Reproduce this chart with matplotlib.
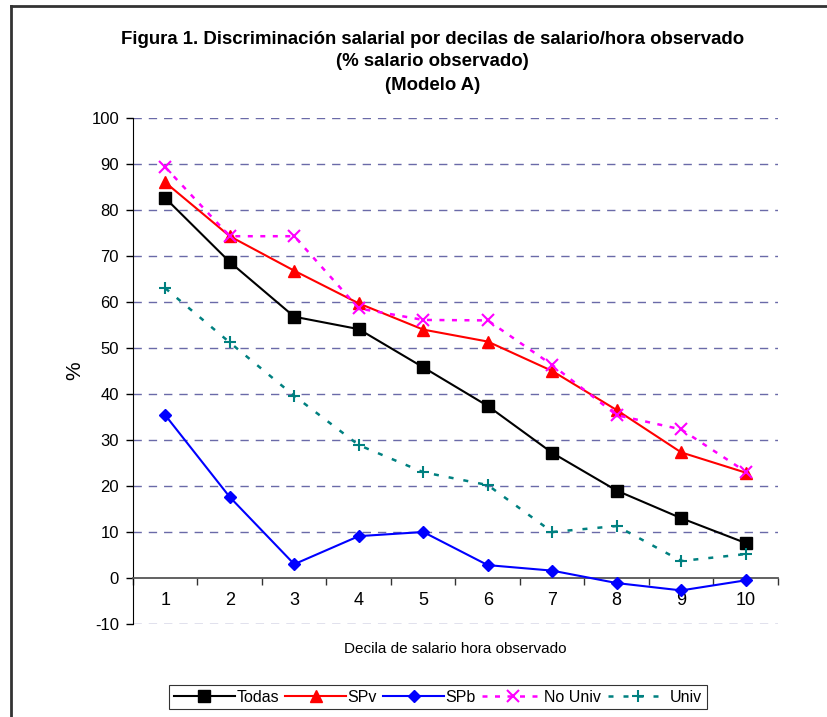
import matplotlib
matplotlib.use("Agg")
import matplotlib.pyplot as plt
from matplotlib.lines import Line2D

plt.rcParams['font.family'] = ['Liberation Sans', 'DejaVu Sans']

deciles = [1, 2, 3, 4, 5, 6, 7, 8, 9, 10]
todas = [82.6, 68.7, 56.8, 54.1, 45.8, 37.4, 27.2, 19.0, 13.0, 7.6]
spv = [86.0, 74.3, 66.8, 59.7, 54.0, 51.4, 45.0, 36.5, 27.3, 22.9]
spb = [35.4, 17.6, 3.0, 9.1, 10.0, 2.8, 1.6, -1.1, -2.7, -0.5]
no_univ = [89.3, 74.3, 74.3, 58.6, 56.1, 56.0, 46.3, 35.4, 32.3, 23.1]
univ = [63.0, 51.2, 39.6, 28.9, 23.0, 20.2, 10.0, 11.3, 3.7, 5.2]
yticks = [-10, 0, 10, 20, 30, 40, 50, 60, 70, 80, 90, 100]

fig = plt.figure(figsize=(8.28, 7.17), dpi=100)
ax = fig.add_axes([133/828, 1-624/717, (778-133)/828, (624-118)/717])

# gridlines
for v in yticks:
    if v != 0:
        ax.axhline(v, color='#6a6aa8', lw=1.0, dashes=(6, 5), zorder=0)

ax.plot(deciles, todas, color='black', lw=1.5, marker='s', ms=8, mfc='black', mec='black', label='Todas', zorder=3)
ax.plot(deciles, spv, color='red', lw=1.5, marker='^', ms=8.5, mfc='red', mec='red', label='SPv', zorder=3)
ax.plot(deciles, spb, color='blue', lw=1.5, marker='D', ms=6, mfc='blue', mec='blue', label='SPb', zorder=3)
ax.plot(deciles, no_univ, color='magenta', lw=1.8, ls=(0, (2, 3)), marker='x', ms=8, mew=1.5, label='No Univ', zorder=3)
ax.plot(deciles, univ, color='#008080', lw=1.8, ls=(0, (2, 4)), marker='+', ms=9, mew=1.5, label='Univ', zorder=3)

ax.set_xlim(0.5, 10.5)
ax.set_ylim(-10, 100)
ax.set_yticks(yticks)
ax.set_yticklabels([str(v) for v in yticks], fontsize=12)
ax.tick_params(axis='y', direction='out', length=5, width=1, color='black', pad=5)

for s in ['top', 'right']:
    ax.spines[s].set_visible(False)
ax.spines['left'].set_color('black')
ax.spines['bottom'].set_position(('data', 0))
ax.spines['bottom'].set_color('#555555')
ax.spines['bottom'].set_linewidth(1.3)

ax.set_xticks(deciles)
ax.set_xticklabels([str(d) for d in deciles], fontsize=13)
ax.tick_params(axis='x', length=0, pad=10)
ax.set_xticks([d + 0.5 for d in [0] + deciles], minor=True)
ax.tick_params(axis='x', which='minor', direction='out', length=5, width=1, color='#333333')

ax.set_ylabel('%', fontsize=15)
ax.yaxis.set_label_coords(-0.075, 0.5)
fig.text(455/828, 1-649/717, 'Decila de salario hora observado', ha='center', va='center', fontsize=11)

fig.text(0.522, 1-39/717, 'Figura 1. Discriminación salarial por decilas de salario/hora observado',
         ha='center', va='center', fontsize=13.4, fontweight='bold')
fig.text(0.522, 1-62/717, '(% salario observado)', ha='center', va='center', fontsize=13.4, fontweight='bold')
fig.text(0.522, 1-86/717, '(Modelo A)', ha='center', va='center', fontsize=13.4, fontweight='bold')

leg = fig.legend(loc='center', bbox_to_anchor=(438/828, 1-697/717), ncol=5, fontsize=11.5,
                 frameon=True, fancybox=False, edgecolor='black', handlelength=3.8,
                 handletextpad=0.1, columnspacing=0.4, borderpad=0.3)
leg.get_frame().set_linewidth(0.8)

# outer border
fig.add_artist(Line2D([11/828, 11/828], [0, 1-6/717], transform=fig.transFigure, color='#333333', lw=2))
fig.add_artist(Line2D([11/828, 1], [1-6/717, 1-6/717], transform=fig.transFigure, color='#333333', lw=2))

fig.savefig('out.png', dpi=100)
